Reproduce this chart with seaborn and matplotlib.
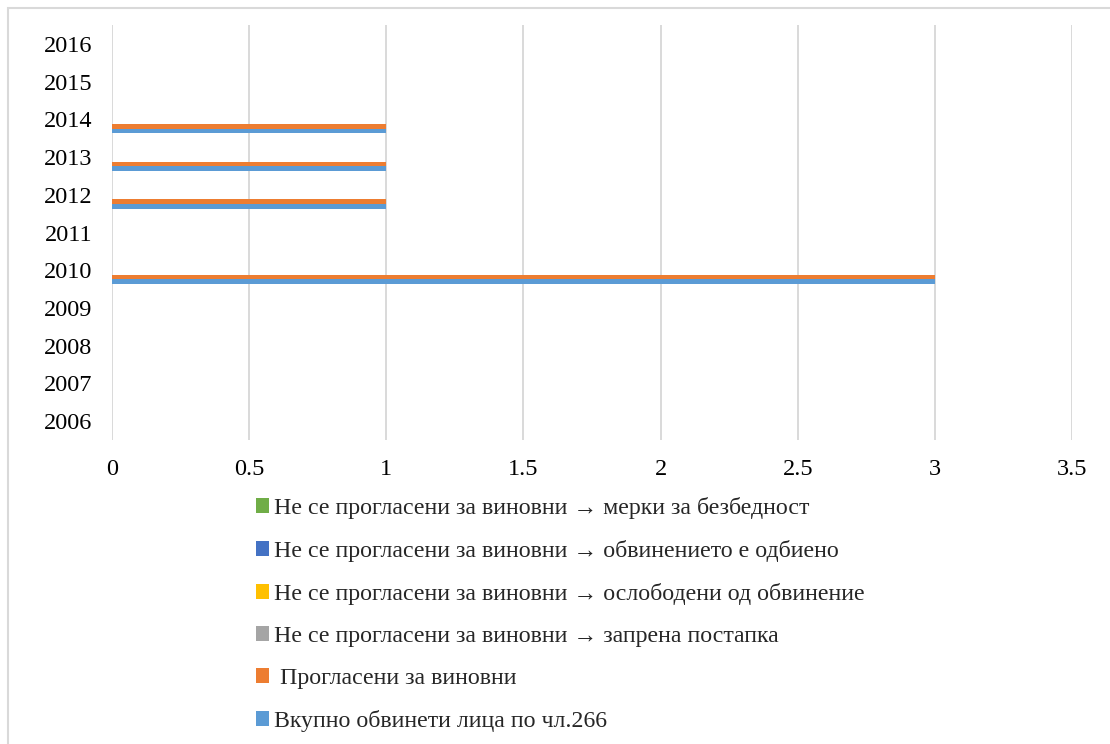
import matplotlib
matplotlib.use("Agg")
import matplotlib.pyplot as plt
from matplotlib.patches import Rectangle
import seaborn as sns
import pandas as pd

# Categories (years) and series
years = [2006, 2007, 2008, 2009, 2010, 2011, 2012, 2013, 2014, 2015, 2016]
series_names = [
    "Вкупно обвинети лица по чл.266",
    " Прогласени за виновни",
    "Не се прогласени за виновни → запрена постапка",
    "Не се прогласени за виновни → ослободени од обвинение",
    "Не се прогласени за виновни → обвинението е одбиено",
    "Не се прогласени за виновни → мерки за безбедност",
]
total_accused = [0, 0, 0, 0, 3, 0, 1, 1, 1, 0, 0]
found_guilty = [0, 0, 0, 0, 3, 0, 1, 1, 1, 0, 0]
stopped_proc = [0, 0, 0, 0, 0, 0, 0, 0, 0, 0, 0]
acquitted = [0, 0, 0, 0, 0, 0, 0, 0, 0, 0, 0]
rejected = [0, 0, 0, 0, 0, 0, 0, 0, 0, 0, 0]
security_measures = [0, 0, 0, 0, 0, 0, 0, 0, 0, 0, 0]
series_values = [total_accused, found_guilty, stopped_proc, acquitted,
                 rejected, security_measures]
series_colors = ["#5B9BD5", "#ED7D31", "#A5A5A5", "#FFC000", "#4472C4", "#70AD47"]
x_ticks = [0, 0.5, 1, 1.5, 2, 2.5, 3, 3.5]
x_tick_labels = ["0", "0.5", "1", "1.5", "2", "2.5", "3", "3.5"]

rows = []
for name, vals in zip(series_names, series_values):
    for y, v in zip(years, vals):
        rows.append({"year": str(y), "series": name, "value": v})
df = pd.DataFrame(rows)

sns.set_theme(style="white")
serif = ["Liberation Serif", "DejaVu Serif"]
plt.rcParams["font.family"] = serif

fig = plt.figure(figsize=(11.10, 7.44), dpi=100)
ax = fig.add_axes([112 / 1110, 1 - 440 / 744, (1072 - 112) / 1110, (440 - 25) / 744])

hue_order = series_names[::-1]
palette = dict(zip(series_names, series_colors))
sns.barplot(
    data=df, x="value", y="year", hue="series", orient="h",
    order=[str(y) for y in years[::-1]], hue_order=hue_order,
    palette=palette, width=0.733, gap=0, linewidth=0, saturation=1,
    errorbar=None, ax=ax,
)

ax.set_xlim(0, 3.5)
ax.set_xticks(x_ticks)
ax.set_xticklabels(x_tick_labels)
ax.xaxis.grid(True, color="#D9D9D9", linewidth=1.4)
ax.yaxis.grid(False)
ax.set_axisbelow(True)
for s in ax.spines.values():
    s.set_visible(False)
ax.set_xlabel("")
ax.set_ylabel("")
ax.tick_params(axis="x", length=0, pad=13.5, labelsize=17.5, colors="black")
ax.tick_params(axis="y", length=0, pad=14, labelsize=17.5, colors="black")

handles, labels = ax.get_legend_handles_labels()
ax.get_legend().remove()
fig.legend(
    handles, labels, loc="upper left",
    bbox_to_anchor=(256 / 1110, 1 - 497 / 744),
    frameon=False, handlelength=0.55, handleheight=0.55,
    handletextpad=0.2, labelspacing=0.88, borderaxespad=0, borderpad=0,
    prop={"family": serif, "size": 17.2},
)

# Chart area border
fig.patches.append(Rectangle(
    (8 / 1110, -0.1), 1.2, 1.1 - 8 / 744, transform=fig.transFigure,
    fill=False, edgecolor="#D9D9D9", linewidth=1.5, zorder=0,
))

fig.savefig("out.png", dpi=100, facecolor="white")
